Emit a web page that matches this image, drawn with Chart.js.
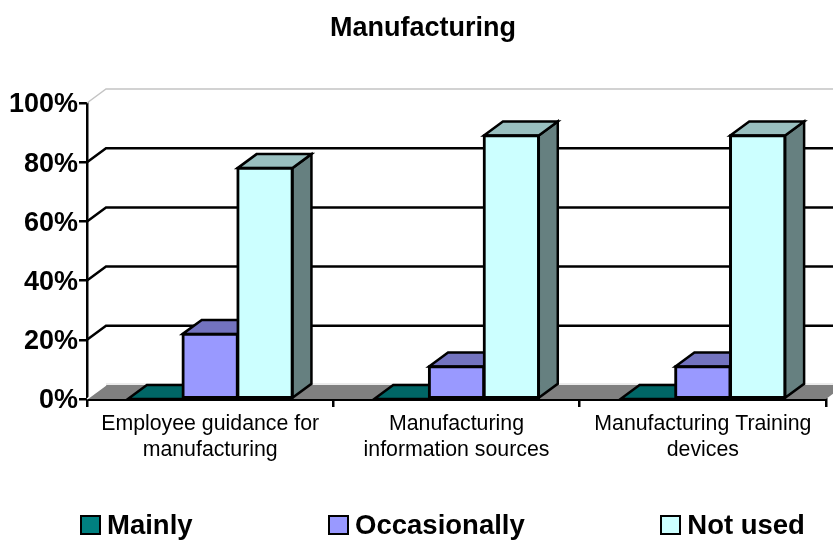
<!DOCTYPE html>
<html>
<head>
<meta charset="utf-8">
<title>Manufacturing</title>
<script src="https://cdn.jsdelivr.net/npm/chart.js@4/dist/chart.umd.min.js"></script>
<style>
    html, body { margin: 0; padding: 0; background: #fff; }
    #wrap { position: relative; width: 833px; height: 540px; overflow: hidden; }
    #legend {
        position: absolute; left: 80px; top: 509px; display: flex; gap: 135.5px;
        font: bold 27.5px "Liberation Sans", Arial, sans-serif; color: #000; white-space: nowrap;
    }
    .item { display: flex; align-items: center; gap: 6px; height: 32px; }
    .box { width: 17px; height: 16px; border: 2px solid #000; }
</style>
</head>
<body>
<div id="wrap">
    <canvas id="chart" width="833" height="540"></canvas>
    <div id="legend"></div>
</div>
<script>
const categories = [
    ['Employee guidance for', 'manufacturing'],
    ['Manufacturing', 'information sources'],
    ['Manufacturing Training', 'devices']
];
const seriesNames = ['Mainly', 'Occasionally', 'Not used'];
const mainly = [0, 0, 0];
const occasionally = [22, 11, 11];
const notUsed = [78, 89, 89];

const frontColors = ['#008080', '#9999ff', '#ccffff'];
const topColors = ['#006666', '#7373bf', '#99bfbf'];
const sideColors = ['#004d4d', '#666699', '#668080'];

const DEPTH_X = 19;
const DEPTH_Y = 14;
const TITLE_SHIFT = 6;

const FONT = '"Liberation Sans", Arial, sans-serif';

function poly(ctx, pts, fill, stroke, lineWidth) {
    ctx.beginPath();
    pts.forEach((p, i) => i ? ctx.lineTo(p[0], p[1]) : ctx.moveTo(p[0], p[1]));
    ctx.closePath();
    if (fill) { ctx.fillStyle = fill; ctx.fill(); }
    if (stroke) { ctx.strokeStyle = stroke; ctx.lineWidth = lineWidth; ctx.stroke(); }
}

// back wall, floor and the top/side faces of the bars, all taken off the scales
const depthPlugin = {
    id: 'depth',
    afterLayout(chart) {
        // title is centred a little right of the page in the original
        chart.titleBlock.left += TITLE_SHIFT;
        chart.titleBlock.right += TITLE_SHIFT;
    },
    beforeDatasetsDraw(chart) {
        const ctx = chart.ctx;
        const y = chart.scales.y;
        const area = chart.chartArea;
        const farRight = area.right + DEPTH_X;

        ctx.save();
        ctx.lineJoin = 'miter';

        const base = y.getPixelForValue(0);
        poly(ctx, [[area.left, base], [area.left + DEPTH_X, base - DEPTH_Y], [farRight, base - DEPTH_Y], [area.right, base]], '#808080');
        ctx.strokeStyle = '#e6e6e6';
        ctx.lineWidth = 1.5;
        ctx.beginPath();
        ctx.moveTo(area.left + DEPTH_X, base - DEPTH_Y - 1);
        ctx.lineTo(farRight, base - DEPTH_Y - 1);
        ctx.stroke();
        ctx.strokeStyle = '#ffffff';
        ctx.beginPath();
        ctx.moveTo(area.left, base);
        ctx.lineTo(area.left + DEPTH_X, base - DEPTH_Y);
        ctx.stroke();

        y.ticks.forEach(t => {
            const py = y.getPixelForValue(t.value);
            if (t.value === 0) return;
            const isTop = t.value === y.max;
            ctx.strokeStyle = isTop ? '#c4c4c4' : '#000';
            ctx.lineWidth = isTop ? 1.5 : 2.5;
            ctx.beginPath();
            ctx.moveTo(area.left, py);
            ctx.lineTo(area.left + DEPTH_X, py - DEPTH_Y);
            ctx.lineTo(farRight, py - DEPTH_Y);
            ctx.stroke();
        });

        chart.data.datasets.forEach((ds, i) => {
            chart.getDatasetMeta(i).data.forEach(bar => {
                const p = bar.getProps(['x', 'y', 'width', 'base'], true);
                const l = p.x - p.width / 2;
                const r = p.x + p.width / 2;
                poly(ctx, [[r, p.y], [r + DEPTH_X, p.y - DEPTH_Y], [r + DEPTH_X, p.base - DEPTH_Y], [r, p.base]], sideColors[i], '#000', 2.5);
                poly(ctx, [[l, p.y], [l + DEPTH_X, p.y - DEPTH_Y], [r + DEPTH_X, p.y - DEPTH_Y], [r, p.y]], topColors[i], '#000', 2.5);
            });
        });
        ctx.restore();
    }
};

const chartConfig = {
    type: 'bar',
    data: {
        labels: categories,
        datasets: [
            { label: seriesNames[0], data: mainly, backgroundColor: frontColors[0] },
            { label: seriesNames[1], data: occasionally, backgroundColor: frontColors[1] },
            { label: seriesNames[2], data: notUsed, backgroundColor: frontColors[2] }
        ]
    },
    options: {
        responsive: false,
        animation: false,
        categoryPercentage: 0.668,
        barPercentage: 1,
        borderColor: '#000',
        borderWidth: 3,
        borderSkipped: false,
        inflateAmount: 1.25,
        layout: { padding: { left: 8, right: 7, top: 0, bottom: 71 } },
        plugins: {
            legend: { display: false },
            tooltip: { enabled: false },
            title: {
                display: true,
                text: 'Manufacturing',
                color: '#000',
                font: { family: FONT, size: 27, weight: 'bold', lineHeight: 1.2 },
                padding: { top: 12, bottom: 58.6 }
            }
        },
        scales: {
            x: {
                grid: { offset: true, drawOnChartArea: false, drawTicks: true, tickLength: 8, color: '#000', lineWidth: 2.5 },
                border: { color: '#000', width: 3 },
                afterFit: scale => { scale.height = 70; },
                ticks: {
                    color: '#000',
                    autoSkip: false,
                    maxRotation: 0,
                    padding: 3.5,
                    font: { family: FONT, size: 21.3, lineHeight: 1.24 }
                }
            },
            y: {
                min: 0,
                max: 100,
                grid: { drawOnChartArea: false, drawTicks: true, tickLength: 8, color: '#000', lineWidth: 2.5 },
                border: { color: '#000', width: 2.5 },
                afterFit: scale => { scale.width = 79; },
                ticks: {
                    stepSize: 20,
                    color: '#000',
                    padding: 1,
                    labelOffset: 2,
                    font: { family: FONT, size: 27, weight: 'bold' },
                    callback: v => v + '%'
                }
            }
        }
    },
    plugins: [depthPlugin]
};

new Chart(document.getElementById('chart').getContext('2d'), chartConfig);

// legend row sits outside the canvas so the gaps between items can stay even
const legendEl = document.getElementById('legend');
seriesNames.forEach((name, i) => {
    const item = document.createElement('div');
    item.className = 'item';
    const box = document.createElement('span');
    box.className = 'box';
    box.style.background = frontColors[i];
    const text = document.createElement('span');
    text.textContent = name;
    item.appendChild(box);
    item.appendChild(text);
    legendEl.appendChild(item);
});
</script>
</body>
</html>
